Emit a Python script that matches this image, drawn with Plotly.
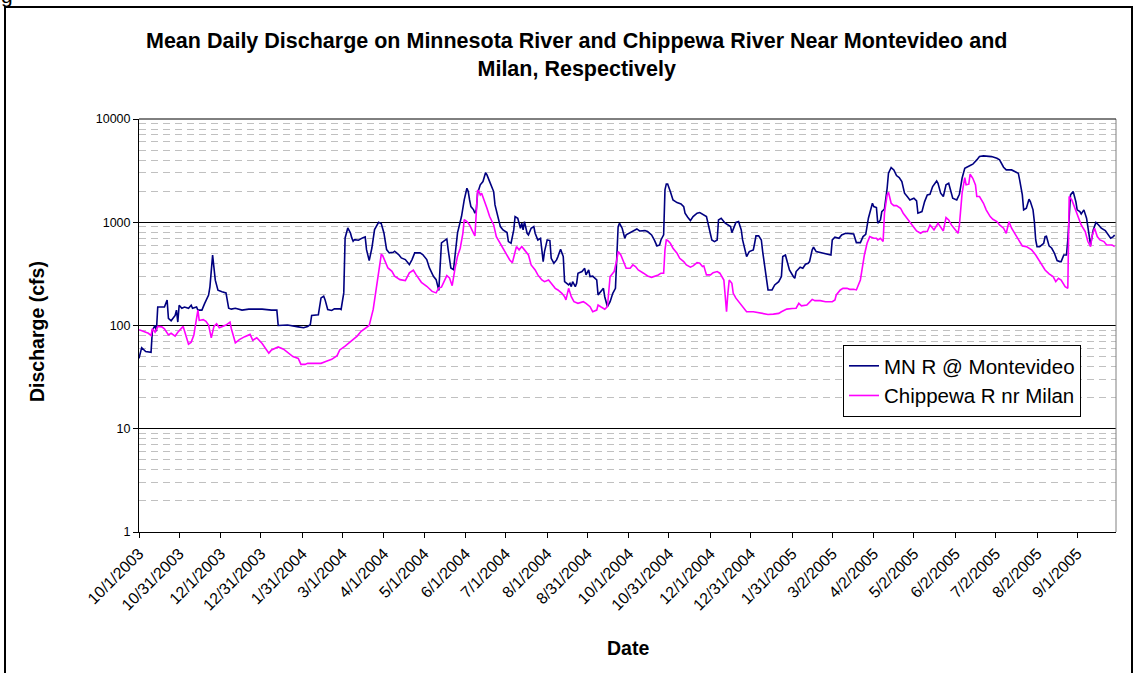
import pandas as pd
import plotly.graph_objects as go

# Mean daily discharge. Days counted from 10/1/2003.
START = pd.Timestamp("2003-10-01")

mn_days = [
    0, 2, 5, 9, 10, 12, 13, 14, 19, 21, 22, 24, 27, 28, 29, 30, 32, 34, 37, 39,
    40, 43, 44, 47, 49, 52, 53, 55, 57, 59, 62, 65, 67, 69, 72, 77, 82, 87, 92, 99,
    103, 104, 111, 119, 123, 126, 128, 129, 134, 136, 138, 139, 141, 144, 146, 150, 151, 153, 154, 156,
    158, 159, 160, 161, 164, 167, 169, 170, 172, 174, 176, 179, 181, 183, 185, 187, 190, 191, 194, 196,
    199, 202, 204, 206, 210, 212, 215, 217, 220, 222, 224, 226, 230, 231, 233, 235, 236, 238, 241, 243,
    245, 246, 247, 248, 250, 251, 252, 253, 255, 257, 259, 260, 262, 265, 266, 268, 270, 272, 275, 276,
    278, 280, 281, 283, 285, 286, 287, 288, 290, 291, 293, 295, 296, 298, 300, 301, 302, 303, 305, 307,
    308, 310, 312, 313, 315, 317, 318, 321, 322, 323, 324, 326, 327, 328, 331, 333, 334, 336, 337, 339,
    342, 343, 345, 347, 348, 350, 352, 353, 354, 356, 357, 358, 359, 361, 362, 363, 364, 367, 369, 372,
    374, 378, 380, 383, 385, 387, 389, 390, 392, 393, 394, 395, 397, 398, 399, 402, 405, 407, 408, 410,
    412, 414, 417, 419, 422, 424, 426, 428, 430, 432, 433, 435, 438, 440, 442, 443, 445, 446, 448, 450,
    451, 453, 454, 456, 459, 460, 461, 463, 465, 466, 468, 470, 473, 475, 478, 480, 481, 483, 484, 486,
    489, 490, 491, 494, 496, 498, 500, 501, 503, 504, 506, 509, 511, 515, 517, 518, 520, 523, 525, 528,
    531, 534, 536, 539, 541, 543, 545, 548, 549, 551, 552, 554, 555, 557, 559, 560, 562, 564, 566, 568,
    570, 572, 574, 576, 579, 581, 582, 585, 587, 589, 591, 593, 596, 597, 599, 601, 603, 605, 606, 608,
    611, 613, 615, 617, 621, 623, 626, 628, 631, 635, 637, 641, 643, 646, 648, 652, 655, 657, 658, 660,
    661, 663, 665, 666, 668, 669, 670, 671, 673, 676, 677, 678, 680, 682, 684, 686, 688, 689, 691, 693,
    694, 696, 698, 700, 701, 703, 704, 706, 708, 710, 711, 713, 715, 717, 719, 722, 724, 726, 728, 729,
]
mn_cfs = [
    48, 61, 56, 55, 90, 100, 88, 151, 151, 176, 117, 111, 125, 141, 108, 157, 147, 151, 147, 157,
    147, 151, 141, 141, 163, 197, 237, 480, 275, 220, 212, 207, 147, 144, 147, 141, 144, 144, 144, 141,
    141, 100, 101, 97, 95, 98, 102, 125, 127, 185, 192, 178, 143, 140, 145, 145, 143, 207, 705, 881,
    788, 705, 655, 679, 670, 705, 721, 543, 425, 563, 849, 1000, 970, 788, 543, 505, 512, 524, 486, 451,
    435, 389, 435, 505, 505, 486, 435, 361, 300, 278, 219, 631, 689, 543, 361, 348, 486, 788, 1143, 1645,
    2133, 1982, 1645, 1419, 1318, 1223, 1318, 1910, 2302, 2477, 3027, 2875, 2477, 1982, 1472, 1135, 908, 843, 794, 650,
    626, 843, 1135, 1094, 875, 978, 843, 1015, 782, 754, 875, 908, 782, 674, 700, 540, 416, 520, 674, 665,
    448, 401, 432, 465, 547, 465, 266, 247, 256, 238, 266, 238, 256, 321, 333, 358, 309, 345, 298, 301,
    276, 198, 213, 229, 190, 152, 170, 190, 205, 229, 540, 908, 978, 875, 782, 700, 754, 794, 813, 861,
    824, 830, 813, 754, 674, 590, 603, 674, 754, 2055, 2350, 2350, 1982, 1774, 1645, 1550, 1506, 1419, 1223, 1118,
    1038, 1135, 1223, 1241, 1178, 1135, 875, 674, 650, 674, 1054, 1094, 978, 942, 908, 794, 908, 995, 1015, 843,
    674, 540, 465, 520, 540, 626, 738, 738, 674, 520, 321, 221, 221, 247, 266, 298, 465, 482, 431, 345,
    297, 287, 333, 367, 358, 392, 401, 416, 540, 573, 520, 508, 501, 482, 482, 674, 716, 700, 754, 782,
    782, 771, 635, 635, 726, 765, 1094, 1528, 1419, 1387, 978, 1054, 1268, 1345, 2133, 2985, 3388, 3213, 2831, 2710,
    2477, 1910, 1774, 1645, 1710, 1610, 1223, 1268, 1585, 1841, 1867, 2218, 2512, 2388, 1910, 1774, 2302, 2388, 2133, 1710,
    1645, 1867, 2667, 3336, 3540, 3648, 4018, 4325, 4393, 4325, 4325, 4169, 4018, 3412, 3213, 3213, 3097, 2985, 2570, 1841,
    1318, 1367, 1670, 1585, 1318, 1015, 674, 581, 581, 626, 726, 731, 590, 560, 501, 425, 416, 416, 482, 482,
    674, 1841, 1982, 1585, 1318, 1268, 1203, 1318, 1094, 726, 603, 843, 995, 942, 875, 830, 771, 700, 726, 754,
]

chip_days = [
    0, 7, 9, 10, 12, 14, 17, 19, 22, 24, 27, 29, 33, 35, 37, 39, 41, 44, 45, 48,
    50, 52, 54, 56, 58, 60, 62, 65, 68, 69, 72, 75, 79, 83, 85, 88, 92, 97, 99, 104,
    108, 111, 115, 119, 121, 124, 126, 131, 136, 140, 144, 148, 150, 154, 158, 160, 163, 166, 170, 172,
    175, 177, 179, 181, 182, 184, 186, 189, 191, 195, 199, 202, 205, 207, 211, 215, 219, 222, 224, 226,
    230, 232, 234, 236, 238, 240, 242, 243, 245, 247, 248, 250, 251, 252, 253, 254, 255, 256, 257, 260,
    262, 265, 267, 270, 272, 274, 277, 279, 281, 282, 284, 286, 288, 291, 293, 296, 298, 301, 303, 306,
    308, 311, 313, 316, 318, 319, 321, 323, 325, 328, 332, 334, 337, 339, 342, 343, 345, 348, 350, 352,
    353, 355, 357, 358, 360, 362, 364, 367, 369, 371, 373, 377, 380, 383, 385, 388, 390, 392, 393, 394,
    395, 397, 399, 402, 404, 407, 409, 412, 414, 417, 419, 421, 422, 424, 427, 429, 432, 434, 437, 438,
    439, 440, 441, 443, 444, 446, 449, 451, 454, 459, 463, 466, 470, 474, 478, 480, 483, 484, 488, 491,
    493, 495, 499, 501, 503, 505, 509, 513, 518, 520, 521, 524, 526, 529, 531, 534, 536, 539, 540, 542,
    544, 546, 549, 551, 552, 554, 556, 557, 559, 560, 562, 564, 566, 569, 571, 574, 576, 579, 581, 584,
    586, 589, 591, 592, 594, 597, 599, 601, 603, 605, 607, 610, 612, 613, 615, 617, 618, 620, 621, 623,
    625, 626, 628, 631, 633, 636, 638, 641, 643, 646, 648, 650, 652, 655, 657, 660, 663, 667, 670, 673,
    677, 680, 683, 685, 687, 689, 692, 694, 695, 697, 699, 702, 704, 707, 709, 711, 712, 714, 716, 718,
    721, 723, 727, 729,
]
chip_cfs = [
    91, 84, 80, 93, 86, 98, 97, 93, 81, 84, 79, 86, 98, 81, 66, 69, 81, 141, 112, 114,
    110, 101, 76, 98, 104, 95, 98, 101, 108, 93, 68, 73, 78, 82, 72, 76, 67, 54, 58, 62,
    59, 55, 50, 48, 42, 42, 43, 43, 43, 45, 47, 51, 58, 63, 70, 73, 79, 88, 95, 100,
    143, 223, 335, 486, 478, 419, 361, 335, 300, 278, 272, 323, 343, 311, 262, 240, 214, 207, 231, 235,
    304, 289, 243, 350, 469, 560, 782, 1061, 1015, 942, 875, 782, 738, 1135, 2055, 1982, 1841, 1910, 1774, 1367,
    1135, 942, 726, 617, 560, 501, 431, 406, 520, 581, 540, 581, 540, 482, 386, 345, 309, 276, 266, 276,
    256, 229, 221, 205, 190, 177, 229, 190, 170, 164, 170, 164, 152, 136, 141, 158, 152, 144, 152, 298,
    309, 333, 431, 520, 482, 416, 358, 358, 386, 372, 345, 321, 302, 293, 298, 309, 321, 321, 540, 674,
    665, 626, 560, 501, 448, 416, 386, 367, 378, 406, 401, 372, 378, 309, 309, 325, 333, 321, 276, 198,
    136, 205, 276, 256, 205, 184, 164, 152, 136, 136, 133, 129, 128, 129, 131, 136, 141, 144, 146, 147,
    164, 155, 158, 170, 179, 174, 174, 170, 170, 177, 198, 221, 229, 229, 224, 224, 221, 276, 345, 482,
    626, 726, 700, 700, 674, 700, 650, 1223, 1841, 1950, 1528, 1449, 1449, 1367, 1223, 1094, 1000, 908, 824, 782,
    813, 813, 942, 908, 843, 978, 908, 824, 1110, 1054, 942, 843, 782, 942, 1910, 2710, 2302, 2335, 2918, 2667,
    2302, 1774, 1774, 1528, 1318, 1135, 1069, 1015, 942, 875, 782, 1015, 875, 754, 674, 590, 581, 540, 482, 416,
    345, 316, 298, 266, 287, 276, 238, 229, 1774, 1645, 1419, 1135, 942, 813, 650, 581, 726, 875, 726, 674,
    650, 603, 603, 581,
]

tick_dates = [
    "2003-10-01", "2003-10-31", "2003-12-01", "2003-12-31", "2004-01-31", "2004-03-01",
    "2004-04-01", "2004-05-01", "2004-06-01", "2004-07-01", "2004-08-01", "2004-08-31",
    "2004-10-01", "2004-10-31", "2004-12-01", "2004-12-31", "2005-01-31", "2005-03-02",
    "2005-04-02", "2005-05-02", "2005-06-02", "2005-07-02", "2005-08-02", "2005-09-01",
]
y_ticks = [1, 10, 100, 1000, 10000]

FONT = "Liberation Sans, Arial, sans-serif"
W, H = 1137, 673
L, R, T, B = 139, 21, 119, 141


def px_x(px):
    return (px - L) / (W - L - R)


def px_y(py):
    return (H - B - py) / (H - T - B)


mn_dates = START + pd.to_timedelta(mn_days, unit="D")
chip_dates = START + pd.to_timedelta(chip_days, unit="D")
tick_labels = [f"{d.month}/{d.day}/{d.year}" for d in pd.to_datetime(tick_dates)]

fig = go.Figure()
fig.add_trace(go.Scatter(
    x=mn_dates, y=mn_cfs, mode="lines", name="MN R @ Montevideo",
    line=dict(color="#000080", width=1.6),
))
fig.add_trace(go.Scatter(
    x=chip_dates, y=chip_cfs, mode="lines", name="Chippewa R nr Milan",
    line=dict(color="#FF00FF", width=1.6),
))

fig.update_layout(
    width=W, height=H,
    margin=dict(l=L, r=R, t=T, b=B, autoexpand=False),
    paper_bgcolor="white", plot_bgcolor="white",
    font=dict(family=FONT, color="black", size=13),
    legend=dict(
        x=px_x(843), y=px_y(345), xanchor="left", yanchor="top",
        bgcolor="white", bordercolor="black", borderwidth=1,
        font=dict(size=20.5, family=FONT), itemwidth=30, tracegroupgap=0,
    ),
    showlegend=True,
)

fig.update_xaxes(
    type="date", range=["2003-10-01", "2005-09-30"],
    tickvals=pd.to_datetime(tick_dates), ticktext=tick_labels, tickangle=-45,
    tickfont=dict(size=16),
    ticks="outside", ticklen=5, tickcolor="black",
    showline=True, linecolor="black", linewidth=1,
    showgrid=False, zeroline=False,
)
fig.update_yaxes(
    type="log", range=[0, 4],
    tickvals=y_ticks, ticktext=[str(v) for v in y_ticks],
    tickfont=dict(size=12.5),
    ticks="outside", ticklen=5, tickcolor="black",
    showline=True, linecolor="black", linewidth=1,
    showgrid=True, gridcolor="black", gridwidth=1, zeroline=False,
    minor=dict(dtick="D1", showgrid=True, gridcolor="#C0C0C0", griddash="7px,5px", gridwidth=1),
)

# chart title and axis titles
fig.add_annotation(
    text="<b>Mean Daily Discharge on Minnesota River and Chippewa River Near Montevideo and<br>Milan, Respectively</b>",
    showarrow=False, xref="paper", yref="paper", x=px_x(576), y=px_y(27),
    xanchor="center", yanchor="top", font=dict(size=21.5),
)
fig.add_annotation(text="<b>Discharge (cfs)</b>", textangle=-90, showarrow=False,
                   xref="paper", yref="paper", x=px_x(37), y=px_y(332),
                   xanchor="center", yanchor="middle", font=dict(size=19.5))
fig.add_annotation(text="<b>Date</b>", showarrow=False,
                   xref="paper", yref="paper", x=px_x(628), y=px_y(648),
                   xanchor="center", yanchor="middle", font=dict(size=19.5))
# caption fragment cut off above the chart frame
fig.add_annotation(text="g", showarrow=False, xref="paper", yref="paper",
                   x=px_x(0), y=px_y(8), xanchor="left", yanchor="bottom",
                   font=dict(size=21), borderpad=0)

# plot frame: grey right edge, black top; outer chart border
fig.add_shape(type="line", xref="paper", yref="paper", x0=1, x1=1, y0=0, y1=1,
              line=dict(color="#808080", width=1))
fig.add_shape(type="line", xref="paper", yref="paper", x0=0, x1=1, y0=1, y1=1,
              line=dict(color="black", width=1))
fig.add_shape(type="rect", xref="paper", yref="paper",
              x0=px_x(5), x1=px_x(1132), y0=px_y(7), y1=px_y(690),
              line=dict(color="black", width=2), layer="below")

fig.write_html(
    "out.html",
    config={"displayModeBar": False},
    post_script="document.body.style.margin='0';document.body.style.overflow='hidden';",
)
